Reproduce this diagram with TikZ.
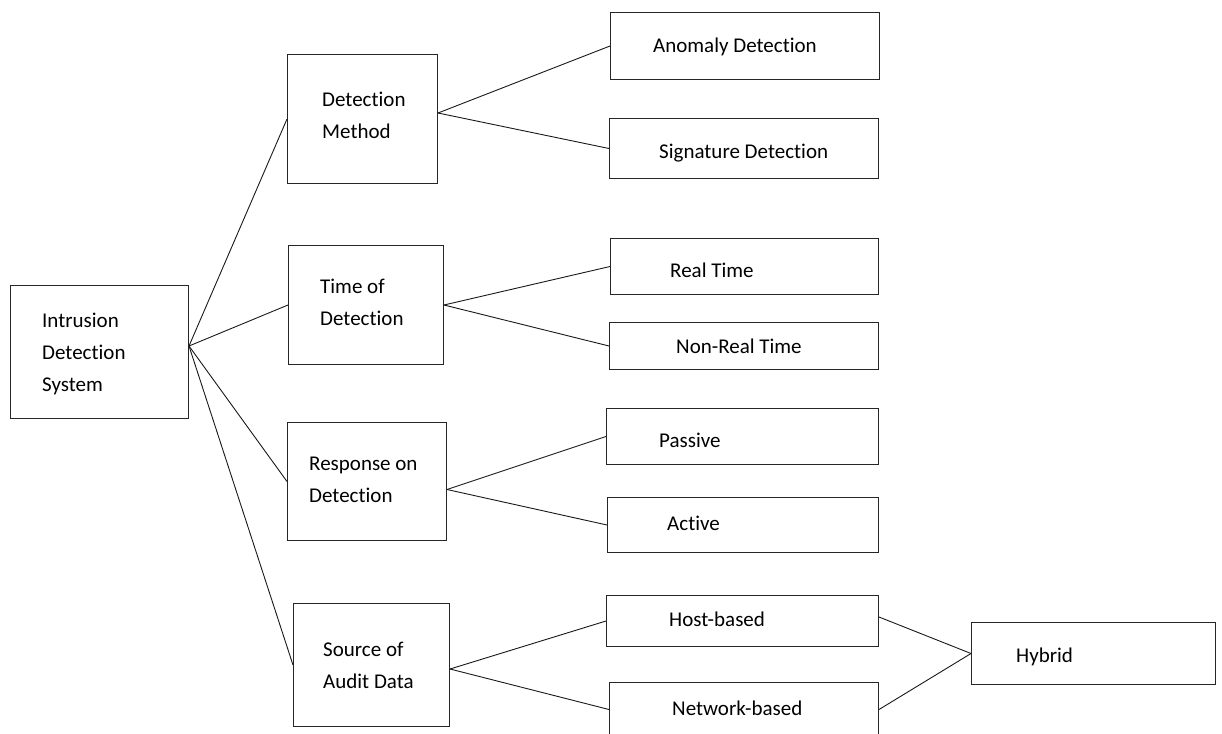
\documentclass[tikz,border=0pt]{standalone}
\usepackage{fontspec}
\setmainfont[Ligatures=NoCommon]{Carlito}
\usepackage{tikz}

\begin{document}
\begin{tikzpicture}%
  [x=1pt, y=-1pt,
   every node/.style={inner sep=0pt},
   box/.style={draw=black!85, line width=1pt, anchor=north west},
   tag/.style={anchor=west, align=left, font=\fontsize{21}{32}\selectfont},
   link/.style={draw=black!90, line width=0.9pt}
  ]
\useasboundingbox (0,0) rectangle (1222,733);

% root
\node[box, minimum width=178pt, minimum height=133pt,
      label={[tag, xshift=32pt, yshift=-2pt]west:Intrusion\\Detection\\System}] (ids) at (10,285) {};

% categories
\node[box, minimum width=150pt, minimum height=129pt,
      label={[tag, xshift=35pt, yshift=4pt]west:Detection\\Method}] (method) at (287,54) {};
\node[box, minimum width=155pt, minimum height=119pt,
      label={[tag, xshift=32pt, yshift=3pt]west:Time of\\Detection}] (time) at (288,245) {};
\node[box, minimum width=159pt, minimum height=118pt,
      label={[tag, xshift=22pt, yshift=2pt]west:Response on\\Detection}] (response) at (287,422) {};
\node[box, minimum width=156pt, minimum height=123pt,
      label={[tag, xshift=30pt]west:Source of\\Audit Data}] (source) at (293,603) {};

% leaves
\node[box, minimum width=269pt, minimum height=67pt,
      label={[tag, xshift=43pt, yshift=-1pt]west:Anomaly Detection}] (anomaly) at (610,12) {};
\node[box, minimum width=269pt, minimum height=60pt,
      label={[tag, xshift=50pt, yshift=-5pt]west:Signature Detection}] (signature) at (609,118) {};
\node[box, minimum width=268pt, minimum height=56pt,
      label={[tag, xshift=60pt, yshift=-4pt]west:Real Time}] (realtime) at (610,238) {};
\node[box, minimum width=269pt, minimum height=47pt,
      label={[tag, xshift=67pt]west:Non-Real Time}] (nonreal) at (609,322) {};
\node[box, minimum width=272pt, minimum height=56pt,
      label={[tag, xshift=53pt, yshift=-4pt]west:Passive}] (passive) at (606,408) {};
\node[box, minimum width=271pt, minimum height=55pt,
      label={[tag, xshift=60pt, yshift=2pt]west:Active}] (active) at (607,497) {};
\node[box, minimum width=272pt, minimum height=51pt,
      label={[tag, xshift=63pt, yshift=2pt]west:Host-based}] (host) at (606,595) {};
\node[box, minimum width=269pt, minimum height=54pt,
      label={[tag, xshift=63pt, yshift=1pt]west:Network-based}] (network) at (609,682) {};
\node[box, minimum width=244pt, minimum height=62pt,
      label={[tag, xshift=45pt, yshift=-3pt]west:Hybrid}] (hybrid) at (971,622) {};

\coordinate (hub) at ([yshift=6pt]ids.east);

\path[link]
%   FROM                          TO
   (hub)                   edge (method.west)
   (hub)                   edge (time.west)
   (hub)                   edge (response.west)
   (hub)                   edge (source.west)
   ([yshift=6pt]method.east)   edge (anomaly.west)
   ([yshift=6pt]method.east)   edge (signature.west)
   (time.east)             edge (realtime.west)
   (time.east)             edge (nonreal.west)
   ([yshift=-8pt]response.east) edge (passive.west)
   ([yshift=-8pt]response.east) edge (active.west)
   ([yshift=-4pt]source.east)   edge (host.west)
   ([yshift=-4pt]source.east)   edge (network.west)
   ([yshift=4pt]host.east)      edge (hybrid.west)
   (network.east)          edge (hybrid.west)
   ;
\end{tikzpicture}
\end{document}
